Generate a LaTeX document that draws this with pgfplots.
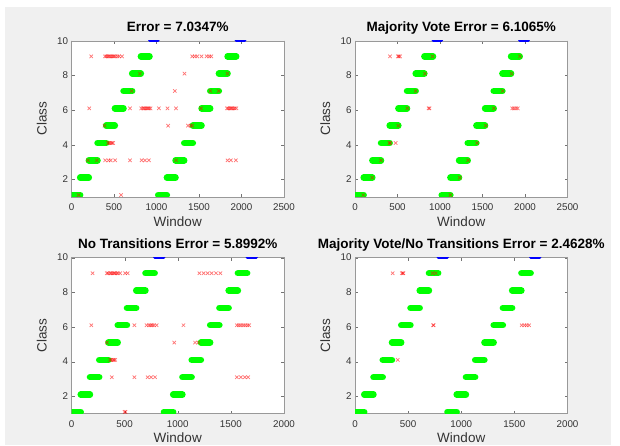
\documentclass[border=0pt]{standalone}
\usepackage{pgfplots}
\pgfplotsset{compat=1.18}
\usepackage{pgfplotstable}
\usepackage{fontspec}
\setmainfont{Liberation Sans}
\definecolor{mgreen}{RGB}{0,255,0}
\definecolor{figbg}{RGB}{240,240,240}

% green segments (true class), top row: windows 0..2040
\pgfplotstableread{
x y
0 1
102 1
nan nan
102 2
204 2
nan nan
204 3
306 3
nan nan
306 4
408 4
nan nan
408 5
510 5
nan nan
510 6
612 6
nan nan
612 7
714 7
nan nan
714 8
816 8
nan nan
816 9
918 9
nan nan
1020 1
1122 1
nan nan
1122 2
1224 2
nan nan
1224 3
1326 3
nan nan
1326 4
1428 4
nan nan
1428 5
1530 5
nan nan
1530 6
1632 6
nan nan
1632 7
1734 7
nan nan
1734 8
1836 8
nan nan
1836 9
1938 9
}\greenTop
\pgfplotstableread{
x y
918 10
1020 10
nan nan
1938 10
2040 10
}\blueTop
% bottom row: windows 0..1740
\pgfplotstableread{
x y
0 1
87 1
nan nan
87 2
174 2
nan nan
174 3
261 3
nan nan
261 4
348 4
nan nan
348 5
435 5
nan nan
435 6
522 6
nan nan
522 7
609 7
nan nan
609 8
696 8
nan nan
696 9
783 9
nan nan
870 1
957 1
nan nan
957 2
1044 2
nan nan
1044 3
1131 3
nan nan
1131 4
1218 4
nan nan
1218 5
1305 5
nan nan
1305 6
1392 6
nan nan
1392 7
1479 7
nan nan
1479 8
1566 8
nan nan
1566 9
1653 9
}\greenBot
\pgfplotstableread{
x y
783 10
870 10
nan nan
1653 10
1740 10
}\blueBot

% misclassified windows (predicted class)
\pgfplotstableread{
x y
232 9
395 9
410 9
425 9
440 9
455 9
470 9
485 9
500 9
515 9
540 9
560 9
595 9
1420 9
1450 9
1480 9
1530 9
1590 9
1620 9
1645 9
805 8
1329 8
1836 8
708 7
1215 7
1633 7
1731 7
209 6
688 6
820 6
840 6
855 6
870 6
885 6
900 6
915 6
930 6
1028 6
1129 6
1229 6
1524 6
1830 6
1845 6
1860 6
1875 6
1890 6
1905 6
1920 6
1940 6
388 5
1137 5
1370 5
1400 5
1420 5
430 4
445 4
460 4
475 4
490 4
193 3
298 3
396 3
435 3
462 3
513 3
688 3
825 3
864 3
910 3
1231 3
1836 3
1875 3
1934 3
84 1
583 1
}\redA
\pgfplotstableread{
x y
412 9
505 9
515 9
530 9
911 9
1940 9
824 8
1842 8
714 7
1736 7
616 6
866 6
876 6
1634 6
1850 6
1870 6
1895 6
1915 6
510 5
1539 5
405 4
415 4
478 4
1437 4
305 3
1331 3
203 2
1233 2
97 1
1123 1
}\redB
\pgfplotstableread{
x y
198 9
333 9
345 9
364 9
375 9
386 9
400 9
411 9
425 9
436 9
458 9
504 9
529 9
1204 9
1244 9
1282 9
1319 9
1360 9
1401 9
186 6
592 6
707 6
730 6
745 6
760 6
775 6
801 6
1054 6
1557 6
1575 6
1595 6
1615 6
1635 6
1655 6
1672 6
333 5
967 5
1163 5
1194 5
364 4
375 4
390 4
400 4
411 4
379 3
592 3
717 3
750 3
786 3
1556 3
1594 3
1632 3
1663 3
500 1
508 1
}\redC
\pgfplotstableread{
x y
355 9
440 9
450 9
455 9
730 9
760 9
735 6
741 6
1569 6
1594 6
1616 6
1638 6
402 4
}\redD

\pgfplotsset{myax/.style={
  scale only axis, width=212.5pt, height=156pt,
  anchor=south west,
  xmin=0, ymin=1, ymax=10, ytick={2,4,6,8,10},
  axis background/.style={fill=white},
  axis line style={draw=black!40},
  tick style={draw=black!55},
  major tick length=3pt,
  tick align=inside,
  ticklabel style={font=\fontsize{9.8}{10}\selectfont, text=black!80},
  xticklabel style={yshift=-3.5pt},
  /pgf/number format/assume math mode=true,
  /pgf/number format/1000 sep={},
  scaled x ticks=false,
  xlabel=Window, ylabel=Class,
  label style={font=\fontsize{13.5}{14}\selectfont, text=black!80},
  xlabel style={at={(axis description cs:0.5,-0.188)}, anchor=base},
  ylabel style={at={(axis description cs:-0.1165,0.5)}, anchor=base},
  title style={font=\bfseries\fontsize{13.5}{14}\selectfont, at={(axis description cs:0.5,1)}, anchor=base, yshift=3.5pt},
  unbounded coords=jump,
}}
\pgfplotsset{
  greenline/.style={color=mgreen, line width=6.5pt, line cap=round, yshift=1.7pt},
  blueline/.style={color=blue, line width=3pt, line cap=round},
  redx/.style={only marks, mark=x, mark size=2.4pt, color=red, opacity=0.55, line width=0.7pt, yshift=1.7pt},
}

\begin{document}
\begin{tikzpicture}[x=1pt,y=1pt]
\useasboundingbox (0,0) rectangle (620,445);
\fill[white] (0,0) rectangle (620,445);
\fill[figbg] (5,0) rectangle (611,438);

\begin{axis}[myax, at={(71.5pt,248.3pt)}, xmax=2500, xtick={0,500,1000,1500,2000,2500}, title={Error = 7.0347\%}]
\addplot[greenline] table {\greenTop};
\addplot[blueline] table {\blueTop};
\addplot[redx] table {\redA};
\end{axis}

\begin{axis}[myax, at={(355pt,248.3pt)}, xmax=2500, xtick={0,500,1000,1500,2000,2500}, title={Majority Vote Error = 6.1065\%}]
\addplot[greenline] table {\greenTop};
\addplot[blueline] table {\blueTop};
\addplot[redx] table {\redB};
\end{axis}

\begin{axis}[myax, at={(71.5pt,31.4pt)}, xmax=2000, xtick={0,500,1000,1500,2000}, title={No Transitions Error = 5.8992\%}]
\addplot[greenline] table {\greenBot};
\addplot[blueline] table {\blueBot};
\addplot[redx] table {\redC};
\end{axis}

\begin{axis}[myax, at={(355pt,31.4pt)}, xmax=2000, xtick={0,500,1000,1500,2000}, title={Majority Vote/No Transitions Error = 2.4628\%}]
\addplot[greenline] table {\greenBot};
\addplot[blueline] table {\blueBot};
\addplot[redx] table {\redD};
\end{axis}
\end{tikzpicture}
\end{document}
